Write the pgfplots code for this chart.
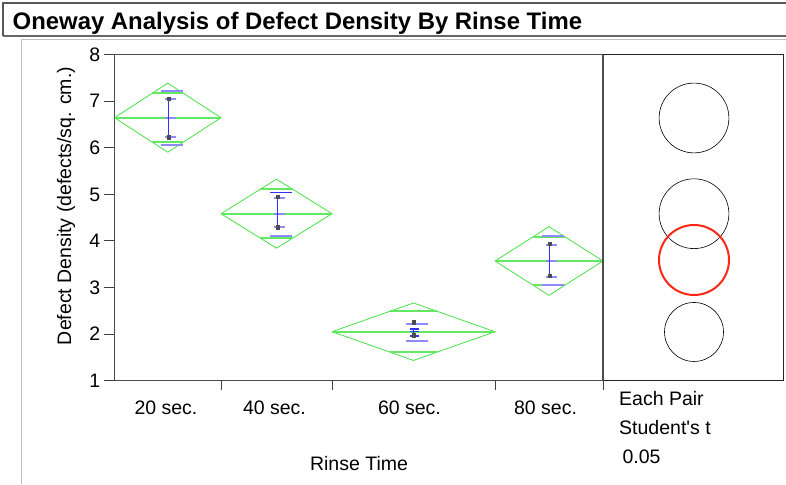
\documentclass[border=0pt]{standalone}
\usepackage{fontspec}
\setmainfont{Liberation Sans}
\usepackage{pgfplots}
\pgfplotsset{compat=1.18}
\definecolor{dgreen}{RGB}{70,225,70}
\definecolor{lgreen}{RGB}{100,232,100}
\definecolor{dblue}{RGB}{50,50,240}
\definecolor{lblue}{RGB}{140,140,255}
\definecolor{cred}{RGB}{250,40,20}
\newcommand{\lab}{\fontsize{19.5}{22}\selectfont}
\begin{document}
\begin{tikzpicture}[x=1pt,y=1pt]
\useasboundingbox (0,0) rectangle (786,484);
% title bar and inner frame
\draw[black!65, line width=1.2pt] (3,448) -- (3,481) -- (786,481);
\draw[black!60, line width=1.6pt] (3,448) -- (786,448);
\draw[black!25, line width=1pt] (21,0) -- (21,444) -- (786,444);
\node[anchor=base west, inner sep=0pt, font=\fontsize{23.9}{26}\selectfont\bfseries] at (12.5,454.7) {Oneway Analysis of Defect Density By Rinse Time};

\begin{axis}[
  at={(114.5pt,103.3pt)}, anchor=south west, scale only axis,
  width=488.5pt, height=326pt,
  xmin=0, xmax=488.5, ymin=1, ymax=8,
  ytick={1,2,3,4,5,6,7,8},
  xtick={51.5,160,295,431},
  xticklabels={20 sec.,40 sec.,60 sec.,80 sec.},
  minor xtick={106.5,217.5,380.5,488.5},
  major x tick style={draw=none},
  xtick pos=bottom, ytick pos=left,
  tick align=outside,
  major tick length=11pt, minor tick length=9pt,
  tick style={black!75, line width=1pt},
  axis line style={black!70, line width=1.3pt},
  ticklabel style={font=\lab},
  /pgf/number format/assume math mode=true,
  yticklabel style={inner sep=0pt, xshift=-3pt},
  xticklabel style={inner sep=0pt, yshift=-8.5pt},
  unbounded coords=jump,
  clip=false,
]
% diamonds
\addplot[dgreen, line width=0.8pt] coordinates {(0,6.647) (53.25,7.388) (106.5,6.647) (53.25,5.906) (0,6.647)};
\addplot[dgreen, line width=0.8pt] coordinates {(106.5,4.586) (162,5.326) (217.5,4.586) (162,3.846) (106.5,4.586)};
\addplot[dgreen, line width=0.8pt] coordinates {(217.5,2.052) (299,2.669) (380.5,2.052) (299,1.435) (217.5,2.052)};
\addplot[dgreen, line width=0.8pt] coordinates {(380.5,3.570) (434.5,4.307) (488.5,3.570) (434.5,2.833) (380.5,3.570)};
% mean lines and overlap marks
\addplot[lgreen, line width=1.8pt] coordinates {
 (0,6.647) (106.5,6.647) (nan,nan)
 (37.65,7.171) (68.85,7.171) (nan,nan)
 (37.65,6.123) (68.85,6.123) (nan,nan)
 (106.5,4.586) (217.5,4.586) (nan,nan)
 (145.7,5.109) (178.3,5.109) (nan,nan)
 (145.7,4.063) (178.3,4.063) (nan,nan)
 (217.5,2.052) (380.5,2.052) (nan,nan)
 (275.1,2.488) (322.9,2.488) (nan,nan)
 (275.1,1.616) (322.9,1.616) (nan,nan)
 (380.5,3.570) (488.5,3.570) (nan,nan)
 (418.7,4.091) (450.3,4.091) (nan,nan)
 (418.7,3.049) (450.3,3.049)
};
% std dev lines
\addplot[lblue, line width=2.2pt] coordinates {
 (46.8,7.227) (68.3,7.227) (nan,nan)
 (46.8,6.061) (68.3,6.061) (nan,nan)
 (155.8,4.107) (177.3,4.107) (nan,nan)
 (291.8,2.211) (313.3,2.211) (nan,nan)
 (291.8,1.852) (313.3,1.852) (nan,nan)
 (427.8,4.113) (449.3,4.113) (nan,nan)
 (427.8,3.055) (449.3,3.055)
};
\addplot[dblue, line width=1pt] coordinates {(155.8,5.045) (177.3,5.045)};
% error bar caps and mean ticks
\addplot[lblue, line width=1.8pt] coordinates {
 (50.3,7.049) (61.3,7.049) (nan,nan)
 (50.3,6.647) (61.3,6.647) (nan,nan)
 (50.3,6.227) (61.3,6.227) (nan,nan)
 (159.3,4.929) (170.3,4.929) (nan,nan)
 (159.3,4.586) (170.3,4.586) (nan,nan)
 (159.3,4.307) (170.3,4.307) (nan,nan)
 (431.3,3.914) (442.3,3.914) (nan,nan)
 (431.3,3.570) (442.3,3.570) (nan,nan)
 (431.3,3.220) (442.3,3.220)
};
\addplot[dblue, line width=1.2pt] coordinates {
 (295.5,2.110) (304.5,2.110) (nan,nan)
 (295.5,1.960) (304.5,1.960) (nan,nan)
 (295.5,2.052) (304.5,2.052)
};
% error bars
\addplot[dblue, line width=1.3pt] coordinates {
 (53.8,7.049) (53.8,6.227) (nan,nan)
 (162.8,4.951) (162.8,4.294) (nan,nan)
 (298.8,2.110) (298.8,1.960) (nan,nan)
 (434.8,3.935) (434.8,3.248)
};
% points
\addplot[only marks, mark=square*, mark size=1.6pt, black!70] coordinates {
 (53.8,7.049) (53.8,6.227) (162.8,4.951) (162.8,4.294)
 (298.8,2.254) (298.8,1.975) (434.8,3.935) (434.8,3.248)
};
\end{axis}

\begin{axis}[
  at={(603pt,103.3pt)}, anchor=south west, scale only axis,
  width=180pt, height=326pt,
  xmin=0, xmax=180, ymin=1, ymax=8,
  xtick=\empty, ytick=\empty,
  axis line style={black!85, line width=1pt},
  clip=false,
]
\addplot[only marks, mark=o, mark size=34.9pt, mark options={black, line width=0.6pt}] coordinates {(91,6.641)};
\addplot[only marks, mark=o, mark size=34.9pt, mark options={black, line width=0.6pt}] coordinates {(91,4.586)};
\addplot[only marks, mark=o, mark size=29.5pt, mark options={black, line width=0.6pt}] coordinates {(91,2.046)};
\addplot[only marks, mark=o, mark size=35pt, mark options={cred, line width=2pt}] coordinates {(91,3.592)};
\end{axis}
\draw[black!70, line width=2pt] (603,103.3) -- (603,429.3);

\node[anchor=base, inner sep=0pt, font=\lab] at (359,14) {Rinse Time};
\node[rotate=90, anchor=base, inner sep=0pt, font=\lab] at (71,278) {Defect Density (defects/sq. cm.)};
\node[anchor=base west, inner sep=0pt, font=\lab] at (619,78.3) {Each Pair};
\node[anchor=base west, inner sep=0pt, font=\lab] at (619,49) {Student\textquotesingle s t};
\node[anchor=base west, inner sep=0pt, font=\lab] at (622.3,20) {0.05};
\end{tikzpicture}
\end{document}
